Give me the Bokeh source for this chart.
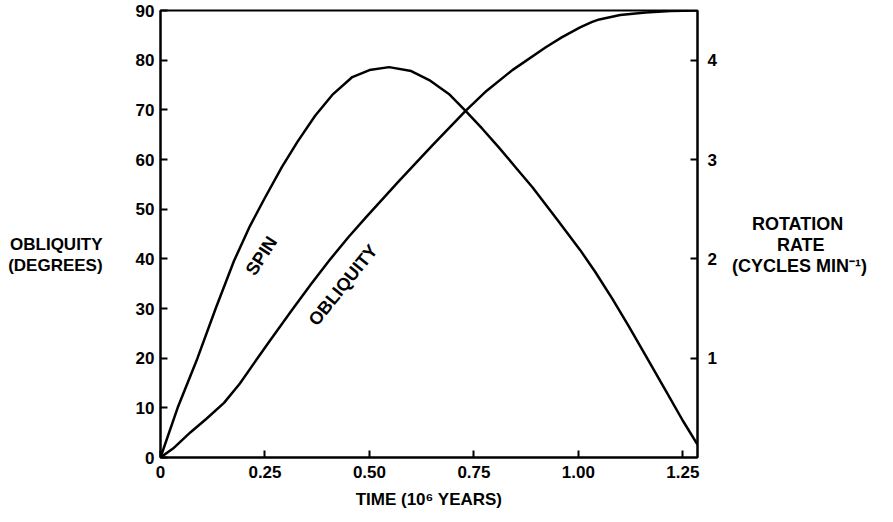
from bokeh.plotting import figure
from bokeh.models import Range1d, LinearAxis, Label, FixedTicker
from bokeh.embed import file_html
from bokeh.resources import INLINE

# ---- data ----
time_spin = [0, 0.041, 0.0885, 0.132, 0.176, 0.214, 0.248, 0.290, 0.328, 0.370,
             0.411, 0.459, 0.500, 0.547, 0.600, 0.643, 0.690, 0.730, 0.770,
             0.810, 0.850, 0.890, 0.950, 1.004, 1.040, 1.081, 1.120, 1.161,
             1.210, 1.250, 1.285]
spin_rate = [0, 0.50, 1.00, 1.50, 1.98, 2.33, 2.60, 2.92, 3.18, 3.44,
             3.65, 3.83, 3.90, 3.93, 3.89, 3.80, 3.66, 3.49, 3.31,
             3.12, 2.92, 2.72, 2.39, 2.09, 1.87, 1.60, 1.325, 1.025,
             0.665, 0.37, 0.13]

time_obl = [0, 0.030, 0.072, 0.110, 0.152, 0.190, 0.224, 0.260, 0.312, 0.360,
            0.407, 0.450, 0.491, 0.571, 0.650, 0.730, 0.780, 0.842, 0.922,
            0.960, 1.004, 1.033, 1.050, 1.100, 1.161, 1.220, 1.285]
obliquity = [0, 1.8, 5.1, 7.8, 11.0, 14.9, 19.0, 23.3, 29.4, 34.9,
             40.0, 44.4, 48.3, 55.7, 62.8, 69.8, 73.8, 78.0, 82.6,
             84.6, 86.6, 87.7, 88.2, 89.1, 89.6, 89.9, 90.0]

x_ticks = [0, 0.25, 0.5, 0.75, 1.0, 1.25]
x_tick_labels = ["0", "0.25", "0.50", "0.75", "1.00", "1.25"]
y_ticks = [0, 10, 20, 30, 40, 50, 60, 70, 80, 90]
rate_ticks = [1, 2, 3, 4]

FONT = "Liberation Sans"
FS = "17px"
NB = "\u00a0"

p = figure(width=877, height=514, output_backend="svg", toolbar_location=None,
           x_range=Range1d(0, 1.285), y_range=Range1d(0, 90),
           min_border_left=160, min_border_right=180,
           min_border_top=10, min_border_bottom=57)
p.extra_y_ranges = {"rate": Range1d(0, 4.5)}
p.grid.visible = False
p.outline_line_color = "black"
p.outline_line_width = 2
p.background_fill_color = "white"
p.border_fill_color = "white"

def style_axis(ax):
    ax.axis_line_width = 2
    ax.axis_line_color = "black"
    ax.major_tick_in = 7
    ax.major_tick_out = 0
    ax.major_tick_line_width = 2
    ax.minor_tick_line_color = None
    ax.major_label_text_font = FONT
    ax.major_label_text_font_style = "bold"
    ax.major_label_text_font_size = FS
    ax.major_label_text_color = "black"
    ax.axis_label_text_font = FONT
    ax.axis_label_text_font_style = "bold"
    ax.axis_label_text_font_size = FS
    ax.axis_label_text_color = "black"

xa = p.xaxis[0]
style_axis(xa)
xa.ticker = FixedTicker(ticks=x_ticks)
xa.major_label_overrides = {t: s for t, s in zip(x_ticks, x_tick_labels)}
xa.axis_label = "TIME (10⁶ YEARS)"
xa.major_label_standoff = 8
xa.axis_label_standoff = 9

ya = p.yaxis[0]
style_axis(ya)
ya.ticker = FixedTicker(ticks=y_ticks)
ya.major_label_standoff = 6
ya.axis_label = " \n \nOBLIQUITY\n(DEGREES)"
ya.axis_label_orientation = "horizontal"
ya.axis_label_standoff = 30
ya.axis_label_text_line_height = 1.12

ra = LinearAxis(y_range_name="rate", ticker=FixedTicker(ticks=rate_ticks))
style_axis(ra)
ra.major_label_standoff = 10
ra.axis_label = (" \n" + NB * 4 + "ROTATION\n" + NB * 9 + "RATE\n"
                 + "(CYCLES MIN⁻¹)")
ra.axis_label_orientation = "horizontal"
ra.axis_label_text_font_size = "18px"
ra.axis_label_standoff = 12
ra.axis_label_text_line_height = 1.05
p.add_layout(ra, "right")

p.line(time_spin, spin_rate, y_range_name="rate", line_color="black", line_width=2.5)
p.line(time_obl, obliquity, line_color="black", line_width=2.5)

def lab(x, y, text, angle=0, size=FS):
    p.add_layout(Label(x=x, y=y, text=text, angle=angle, angle_units="deg",
                       text_align="center", text_baseline="middle",
                       text_font=FONT, text_font_style="bold",
                       text_font_size=size, text_color="black"))

lab(0.2416, 40.6, "SPIN", 57, "18px")
lab(0.437, 34.7, "OBLIQUITY", 51, "18px")

open("out.html", "w").write(file_html(p, INLINE))
